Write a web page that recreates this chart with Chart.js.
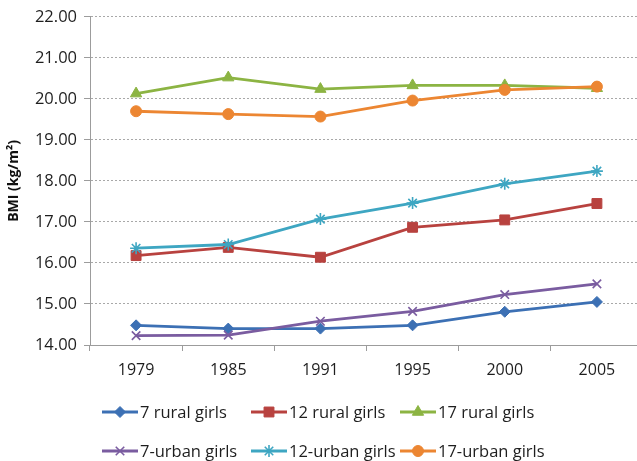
<!DOCTYPE html>
<html>
<head>
<meta charset="utf-8">
<script src="https://cdn.jsdelivr.net/npm/chart.js@4/dist/chart.umd.min.js"></script>
<style>
  html, body { margin: 0; padding: 0; background: #fff; overflow: hidden; }
  #wrap { width: 637px; height: 461px; overflow: hidden; }
</style>
</head>
<body>
<div id="wrap"><canvas id="c" width="651" height="461"></canvas></div>
<script>
// Survey years (x axis)
const years = ['1979', '1985', '1991', '1995', '2000', '2005'];

// Mean BMI (kg/m²) per survey year
const rural7  = [14.48, 14.40, 14.40, 14.48, 14.81, 15.05];
const rural12 = [16.18, 16.38, 16.14, 16.87, 17.05, 17.45];
const rural17 = [20.13, 20.52, 20.24, 20.33, 20.33, 20.26];
const urban7  = [14.23, 14.24, 14.58, 14.82, 15.23, 15.49];
const urban12 = [16.36, 16.45, 17.07, 17.46, 17.93, 18.24];
const urban17 = [19.70, 19.63, 19.57, 19.96, 20.22, 20.30];

const seriesNames = ['7 rural girls', '12 rural girls', '17 rural girls',
                     '7-urban girls', '12-urban girls', '17-urban girls'];

// y axis range and step
const yMin = 14, yMax = 22, yStep = 1;

const FONT = '"Open Sans", "DejaVu Sans", sans-serif';

// later series are painted over earlier ones
function series(idx, data, color, style, radius, pointBorder) {
  return {
    label: seriesNames[idx], data,
    order: 10 - idx,
    borderColor: color,
    backgroundColor: color,
    borderWidth: 2.8,
    pointStyle: style,
    pointRadius: radius,
    pointHoverRadius: radius,
    pointBorderWidth: pointBorder,
    pointBackgroundColor: color,
    pointBorderColor: color,
    tension: 0,
    fill: false
  };
}

// Two-row legend: each entry is a short line with the series marker on it
const legendRows = [[0, 1, 2], [3, 4, 5]];
const lineLegend = {
  id: 'lineLegend',
  afterDraw(chart, args, opts) {
    const ctx = chart.ctx;
    ctx.save();
    ctx.font = '16.5px ' + FONT;
    ctx.textBaseline = 'middle';
    ctx.textAlign = 'left';
    legendRows.forEach((row, r) => {
      const y = opts.top + r * opts.rowGap;
      row.forEach((di, c) => {
        const ds = chart.data.datasets[di];
        const x = opts.left + c * opts.colWidth;
        ctx.strokeStyle = ds.borderColor;
        ctx.fillStyle = ds.borderColor;
        ctx.lineWidth = ds.borderWidth;
        ctx.setLineDash([]);
        ctx.beginPath();
        ctx.moveTo(x, y);
        ctx.lineTo(x + opts.lineLength, y);
        ctx.stroke();
        ctx.lineWidth = ds.pointBorderWidth;
        Chart.helpers.drawPoint(ctx, {
          pointStyle: ds.pointStyle,
          radius: ds.pointRadius,
          borderWidth: ds.pointBorderWidth,
          rotation: 0
        }, x + opts.lineLength / 2, y);
        ctx.fillStyle = '#1e1e1e';
        ctx.fillText(ds.label, x + opts.lineLength + 2, y + 1);
      });
    });
    ctx.restore();
  }
};

new Chart(document.getElementById('c'), {
  type: 'line',
  data: {
    labels: years,
    datasets: [
      series(0, rural7,  '#3C70B4', 'rectRot', 5.5, 1),
      series(1, rural12, '#B8423F', 'rect', 7, 1),
      series(2, rural17, '#8CB443', 'triangle', 6.5, 1),
      series(3, urban7,  '#7A5CA0', 'crossRot', 6, 1.6),
      series(4, urban12, '#3EA6C2', 'star', 6, 1.6),
      series(5, urban17, '#EC8632', 'circle', 5.5, 1)
    ]
  },
  options: {
    responsive: false,
    devicePixelRatio: 1,
    animation: false,
    layout: { padding: { top: 15, right: 0, bottom: 80, left: 0 } },
    plugins: {
      legend: { display: false },
      tooltip: { enabled: false },
      lineLegend: { left: 102, top: 412, rowGap: 39, colWidth: 149, lineLength: 36 }
    },
    scales: {
      x: {
        type: 'category',
        offset: true,
        afterFit(scale) { scale.height = 36; },
        grid: {
          offset: true,
          drawOnChartArea: false,
          drawTicks: true,
          tickLength: 6,
          color: '#9c9c9c'
        },
        border: { display: true, color: '#9c9c9c', width: 1 },
        ticks: {
          color: '#1e1e1e',
          font: { family: FONT, size: 16 },
          padding: 10,
          maxRotation: 0
        }
      },
      y: {
        min: yMin,
        max: yMax,
        afterFit(scale) { scale.width = 90; },
        grid: {
          color: '#a8a8a8',
          lineWidth: 1,
          tickLength: 6,
          tickColor: '#9c9c9c'
        },
        border: { display: true, color: '#9c9c9c', width: 1, dash: [2, 2] },
        ticks: {
          stepSize: yStep,
          color: '#1e1e1e',
          font: { family: FONT, size: 16.5 },
          padding: 7,
          callback: v => Number(v).toFixed(2)
        },
        title: {
          display: true,
          text: 'BMI (kg/m²)',
          color: '#111',
          font: { family: FONT, size: 14, weight: 'bold' },
          padding: { top: 6, bottom: 0 }
        }
      }
    }
  },
  plugins: [lineLegend]
});
</script>
</body>
</html>
